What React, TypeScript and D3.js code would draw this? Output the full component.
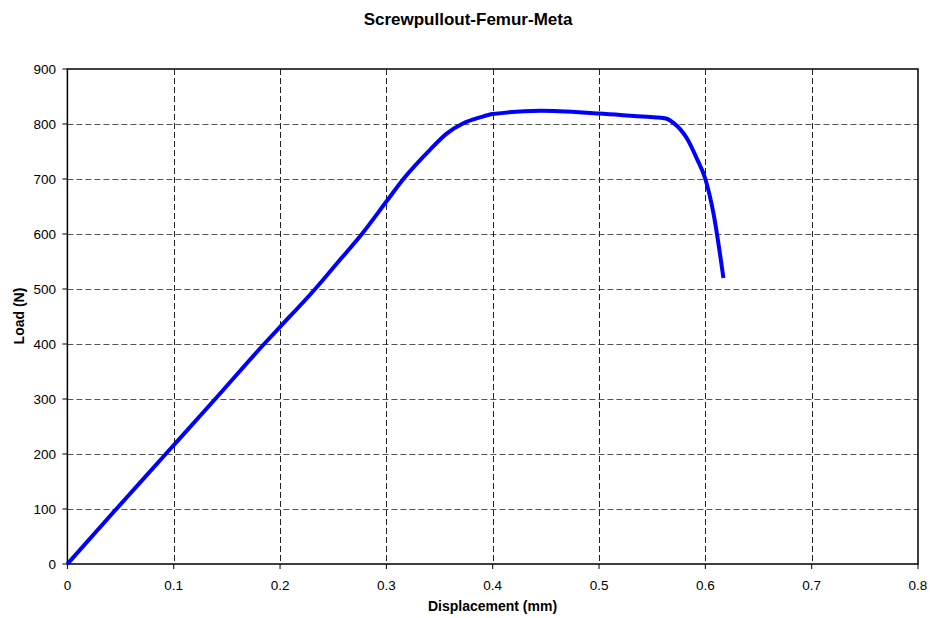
import React, { useEffect, useRef } from "react";
import * as d3 from "d3";

// displacement (mm) vs load (N)
const displacement = [
  0, 0.046, 0.0925, 0.139, 0.185, 0.2, 0.233, 0.255, 0.277, 0.3, 0.316, 0.341,
  0.357, 0.372, 0.388, 0.4, 0.445, 0.5, 0.545, 0.554, 0.563, 0.57, 0.5826,
  0.592, 0.6, 0.6076, 0.617,
];
const load = [
  0, 100, 200, 300, 400, 431, 500, 550, 600, 659, 700, 753, 783, 801, 812,
  818, 824, 819, 813, 812, 810, 802, 774, 737, 700, 638, 520,
];
const xTicks = [0, 0.1, 0.2, 0.3, 0.4, 0.5, 0.6, 0.7, 0.8];
const yTicks = [0, 100, 200, 300, 400, 500, 600, 700, 800, 900];

const title = "Screwpullout-Femur-Meta";
const xTitle = "Displacement (mm)";
const yTitle = "Load (N)";

const App = () => {
  const svgRef = useRef<SVGSVGElement>(null);

  useEffect(() => {
    const svg = d3.select(svgRef.current);
    svg.selectAll("*").remove();

    const width = 930;
    const height = 618;
    const left = 67.4;
    const right = 918;
    const top = 69;
    const bottom = 564;
    const font = "Liberation Sans, Arial, sans-serif";

    const x = d3.scaleLinear().domain([0, 0.8]).range([left, right]);
    const y = d3.scaleLinear().domain([0, 900]).range([bottom, top]);

    svg.append("rect").attr("width", width).attr("height", height).attr("fill", "white");

    // grid
    svg
      .append("g")
      .selectAll("line")
      .data(yTicks.slice(1, -1))
      .join("line")
      .attr("x1", left)
      .attr("x2", right)
      .attr("y1", (d) => Math.round(y(d)) + 0.5)
      .attr("y2", (d) => Math.round(y(d)) + 0.5)
      .attr("stroke", "#555")
      .attr("stroke-width", 1)
      .attr("stroke-dasharray", "6,3");

    svg
      .append("g")
      .selectAll("line")
      .data(xTicks.slice(1, -1))
      .join("line")
      .attr("x1", (d) => Math.round(x(d)) + 0.5)
      .attr("x2", (d) => Math.round(x(d)) + 0.5)
      .attr("y1", top)
      .attr("y2", bottom)
      .attr("stroke", "#222")
      .attr("stroke-width", 1)
      .attr("stroke-dasharray", "6,3");

    // frame
    svg
      .append("rect")
      .attr("x", left)
      .attr("y", top)
      .attr("width", right - left)
      .attr("height", bottom - top)
      .attr("fill", "none")
      .attr("stroke", "#000")
      .attr("stroke-width", 1.5);

    // ticks
    const yAxis = svg.append("g");
    yAxis
      .selectAll("line")
      .data(yTicks)
      .join("line")
      .attr("x1", left - 5)
      .attr("x2", left)
      .attr("y1", (d) => y(d))
      .attr("y2", (d) => y(d))
      .attr("stroke", "#000");
    yAxis
      .selectAll("text")
      .data(yTicks)
      .join("text")
      .attr("x", 56)
      .attr("y", (d) => y(d))
      .attr("dy", "0.35em")
      .attr("text-anchor", "end")
      .attr("font-family", font)
      .attr("font-size", 13.5)
      .text((d) => d);

    const xAxis = svg.append("g");
    xAxis
      .selectAll("line")
      .data(xTicks)
      .join("line")
      .attr("x1", (d) => x(d))
      .attr("x2", (d) => x(d))
      .attr("y1", bottom)
      .attr("y2", bottom + 5)
      .attr("stroke", "#000");
    xAxis
      .selectAll("text")
      .data(xTicks)
      .join("text")
      .attr("x", (d) => x(d))
      .attr("y", 590)
      .attr("text-anchor", "middle")
      .attr("font-family", font)
      .attr("font-size", 13.5)
      .text((d) => String(d));

    // series
    const pts: [number, number][] = displacement.map((d, i) => [d, load[i]]);
    const line = d3
      .line<[number, number]>()
      .x((d) => x(d[0]))
      .y((d) => y(d[1]))
      .curve(d3.curveMonotoneX);
    svg
      .append("path")
      .datum(pts)
      .attr("d", line)
      .attr("fill", "none")
      .attr("stroke", "#0000ff")
      .attr("stroke-width", 4)
      .attr("stroke-linejoin", "round");

    // titles
    svg
      .append("text")
      .attr("x", 468)
      .attr("y", 25)
      .attr("text-anchor", "middle")
      .attr("font-family", font)
      .attr("font-weight", "bold")
      .attr("font-size", 17)
      .text(title);
    svg
      .append("text")
      .attr("x", 492.5)
      .attr("y", 611)
      .attr("text-anchor", "middle")
      .attr("font-family", font)
      .attr("font-weight", "bold")
      .attr("font-size", 14)
      .text(xTitle);
    svg
      .append("text")
      .attr("transform", "translate(23.5,316) rotate(-90)")
      .attr("text-anchor", "middle")
      .attr("font-family", font)
      .attr("font-weight", "bold")
      .attr("font-size", 14)
      .text(yTitle);
  }, []);

  return (
    <svg
      ref={svgRef}
      width={930}
      height={618}
      style={{ position: "absolute", left: 0, top: 0, display: "block" }}
    />
  );
};

export default App;
